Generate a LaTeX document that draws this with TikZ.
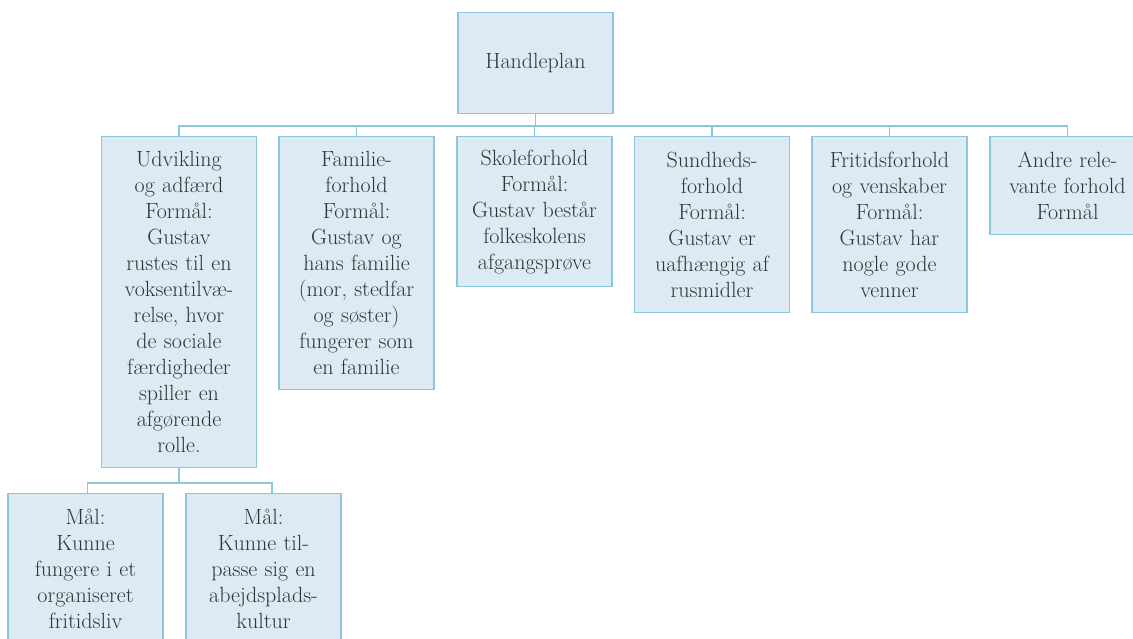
\documentclass[tikz,border=0pt]{standalone}
\definecolor{boxfill}{HTML}{DCEAF4}
\definecolor{boxline}{HTML}{8CC6DC}
\definecolor{ink}{HTML}{333333}
\begin{document}
\begin{tikzpicture}[x=1pt,y=-1pt,
  card/.style={draw=boxline, fill=boxfill, line width=1.3pt, anchor=north,
    text width=150pt, inner xsep=2.5pt, inner ysep=0pt, align=center,
    text=ink, font=\fontsize{22}{26}\selectfont},
  link/.style={draw=boxline, line width=1.2pt}]
\useasboundingbox (0,0) rectangle (1133,639);
\clip (0,0) rectangle (1133,639);

% top of the plan
\node[card, minimum height=101pt] (root) at (535.5,12) {Handleplan};

% the six areas
\node[card, minimum height=331pt] (udv) at (179,136)
  {Udvikling\\og adfærd\\Formål:\\Gustav\\rustes til en\\voksentilvæ-\\relse, hvor\\de sociale\\færdigheder\\spiller en\\afgørende\\rolle.};
\node[card, minimum height=253pt] (fam) at (356.5,136)
  {Familie-\\forhold\\Formål:\\Gustav og\\hans familie\\(mor, stedfar\\og søster)\\fungerer som\\en familie};
\node[card, minimum height=150pt] (skole) at (534.5,136)
  {Skoleforhold\\Formål:\\Gustav består\\folkeskolens\\afgangsprøve};
\node[card, minimum height=176pt] (sund) at (712,136)
  {Sundheds-\\forhold\\Formål:\\Gustav er\\uafhængig af\\rusmidler};
\node[card, minimum height=176pt] (frit) at (889.5,136)
  {Fritidsforhold\\og venskaber\\Formål:\\Gustav har\\nogle gode\\venner};
\node[card, minimum height=98pt] (andre) at (1067.5,136)
  {Andre rele-\\vante forhold\\Formål};

% goals under the first area
\node[card, minimum height=151pt] (maal1) at (85.5,493)
  {Mål:\\Kunne\\fungere i et\\organiseret\\fritidsliv};
\node[card, minimum height=151pt] (maal2) at (263.5,493)
  {Mål:\\Kunne til-\\passe sig en\\abejdsplads-\\kultur};

% connectors
\coordinate (bus) at (0,126);
\foreach \c in {udv,fam,skole,sund,frit,andre}
  \draw[link] (root.south) -- (root.south |- bus) -| (\c.north);

\coordinate (lowbus) at (0,483);
\draw[link] (udv.south) -- (udv.south |- lowbus) -| ([xshift=2pt]maal1.north);
\draw[link] (udv.south |- lowbus) -| ([xshift=8.5pt]maal2.north);
\end{tikzpicture}
\end{document}
